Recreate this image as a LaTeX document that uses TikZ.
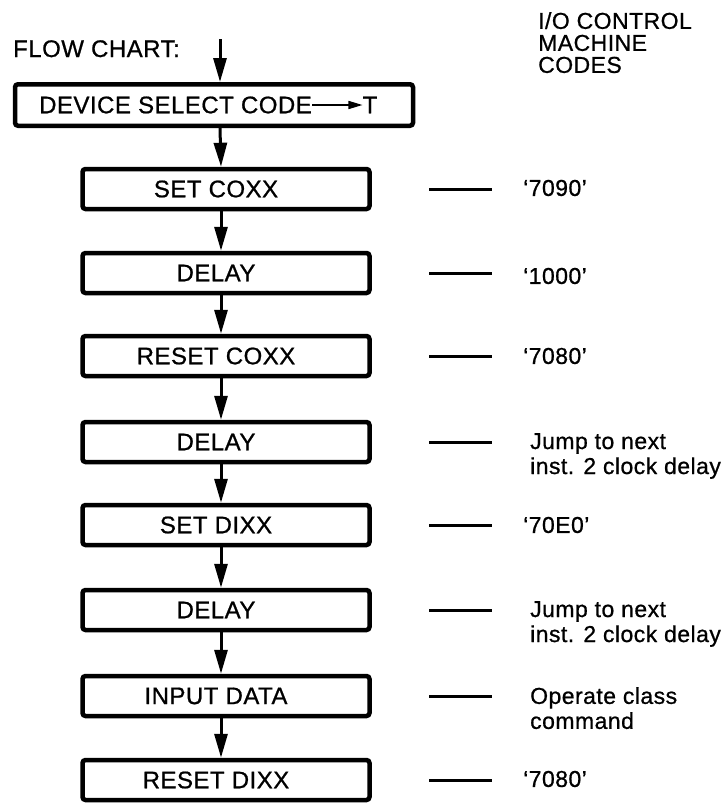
\documentclass[tikz,border=0pt]{standalone}
\usepackage{fontspec}
\setmainfont{Liberation Sans}[LetterSpace=2, FakeBold=0.8]
\usetikzlibrary{arrows.meta}
\begin{document}
\begin{tikzpicture}[x=1pt,y=-1pt,
  box/.style={draw, line width=4.5pt, rounded corners=3pt, minimum width=287pt, minimum height=40pt, inner sep=0pt},
  boxtext/.style={font=\fontsize{24}{26}\selectfont, inner sep=0pt},
  flow/.style={line width=3pt, -{Triangle[length=24pt,width=13pt]}},
  tick/.style={line width=3pt},
  code/.style={font=\fontsize{23}{25}\selectfont, inner sep=0pt, anchor=west, align=left},
  head/.style={font=\fontsize{23}{22}\selectfont, inner sep=0pt, align=left}]
\useasboundingbox (0,0) rectangle (727,803);

\node[head, anchor=base west, font=\fontsize{24}{22}\selectfont] (fc) at (13,57) {FLOW CHART:};
\node[head, anchor=north west] (hdr) at (538,12) {I/O CONTROL\\MACHINE\\CODES};

\node[box, minimum width=398pt, minimum height=41.5pt] (top) at (214,105) {};
\node[boxtext, anchor=east] (dsc) at (312,105) {DEVICE SELECT CODE};
\node[boxtext] (tt) at (370,105) {T};
\draw[line width=1.5pt, -{Triangle[length=14pt,width=8pt]}] (dsc.east) -- (tt.west);

\coordinate (in) at (220,39);
\draw[flow] (in) -- ([xshift=6pt]top.north);

\foreach \i/\y/\t in {1/189/SET COXX, 2/273/DELAY, 3/356/RESET COXX, 4/442/DELAY, 5/525/SET DIXX, 6/610/DELAY, 7/696/INPUT DATA, 8/780/RESET DIXX}{
  \node[box] (b\i) at (226,\y) {};
  \node[boxtext] (t\i) at (216,\y) {\t};
  \coordinate (dl\i) at (429,\y);
  \coordinate (dr\i) at (492,\y);
  \draw[tick] (dl\i) -- (dr\i);
}

\draw[flow] ([xshift=6pt]top.south) -- ([xshift=-5pt]b1.north);
\foreach \a/\b in {1/2,2/3,3/4,4/5,5/6,6/7,7/8}{
  \draw[flow] ([xshift=-5pt]b\a.south) -- ([xshift=-5pt]b\b.north);
}

\node[code] (c1) at (523,188) {‘7090’};
\node[code] (c2) at (523,276) {‘1000’};
\node[code] (c3) at (523,356) {‘7080’};
\node[code, anchor=north west] (c4) at (530,433) {Jump to next\\inst. 2 clock delay};
\node[code] (c5) at (523,525) {‘70E0’};
\node[code, anchor=north west] (c6) at (530,601) {Jump to next\\inst. 2 clock delay};
\node[code, anchor=north west] (c7) at (530,687) {Operate class\\command};
\node[code] (c8) at (523,779) {‘7080’};
\end{tikzpicture}
\end{document}
